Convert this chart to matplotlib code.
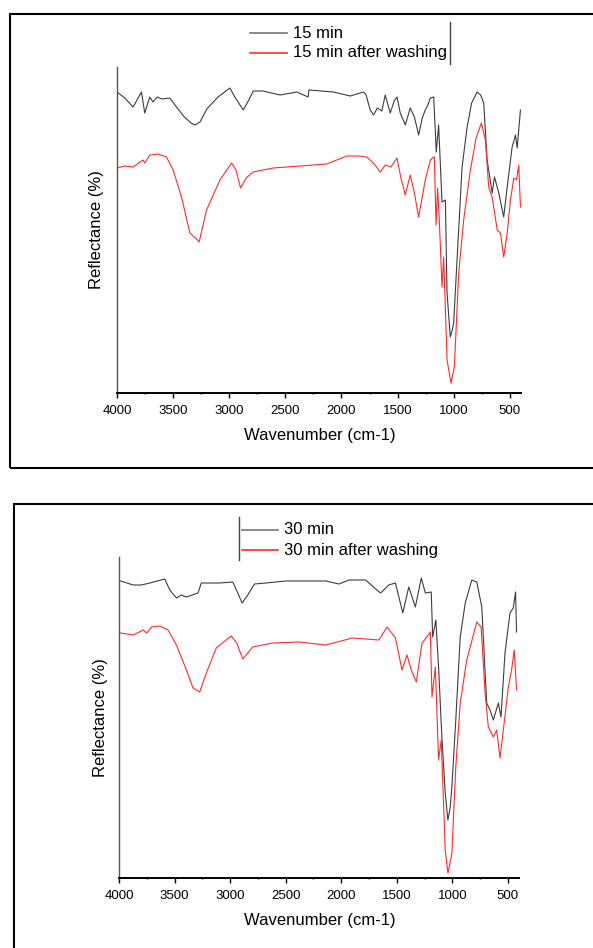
import matplotlib
matplotlib.use("Agg")
import matplotlib.pyplot as plt
from matplotlib.lines import Line2D
from matplotlib.patches import Rectangle
from matplotlib.ticker import MultipleLocator, NullLocator

plt.rcParams['font.family'] = ['Liberation Sans', 'DejaVu Sans']

# valores (unidades arbitrárias de refletância)
wn_15 = [4000, 3930, 3857, 3782, 3753, 3708, 3680, 3640, 3600, 3530, 3470, 3400, 3340, 3306, 3260,
         3200, 3100, 2994, 2950, 2875, 2830, 2786, 2700, 2547, 2398, 2297, 2290, 2071, 1922, 1803,
         1780, 1744, 1714, 1680, 1640, 1610, 1565, 1530, 1505, 1476, 1431, 1387, 1350, 1312, 1280,
         1253, 1230, 1208, 1178, 1155, 1134, 1104, 1074, 1059, 1030, 1015, 1000, 970, 925, 880,
         840, 791, 760, 732, 702, 657, 636, 598, 554, 523, 479, 449, 434, 405]
r_15 = [301, 295, 286, 301, 280, 296, 291, 296, 294, 295, 286, 276, 270, 268, 271,
        284, 296, 305, 296, 283, 292, 302, 302, 298, 301, 296, 303, 301, 297, 301,
        298, 283, 278, 285, 282, 298, 280, 292, 296, 280, 268, 285, 276, 258, 275,
        283, 288, 295, 296, 241, 268, 191, 193, 100, 56, 62, 70, 133, 226, 266,
        290, 301, 298, 290, 233, 200, 216, 200, 176, 206, 246, 258, 245, 283]

wn_15w = [4000, 3930, 3857, 3768, 3753, 3708, 3634, 3559, 3500, 3425, 3351, 3300, 3268, 3202, 3083,
          2979, 2940, 2899, 2850, 2786, 2607, 2369, 2131, 1952, 1850, 1773, 1700, 1654, 1610, 1560,
          1505, 1470, 1431, 1387, 1350, 1312, 1253, 1208, 1178, 1172, 1157, 1143, 1128, 1104, 1089,
          1059, 1024, 994, 955, 911, 851, 800, 753, 717, 688, 657, 612, 583, 554, 523,
          494, 464, 440, 420, 405]
r_15w = [225, 227, 226, 233, 230, 238, 239, 236, 223, 196, 160, 155, 151, 183, 213,
         230, 223, 205, 215, 221, 225, 227, 229, 237, 237, 236, 228, 221, 228, 226,
         235, 215, 198, 218, 200, 176, 213, 233, 236, 236, 168, 205, 173, 106, 136,
         33, 10, 26, 120, 173, 223, 255, 270, 253, 206, 196, 163, 160, 136, 160,
         193, 215, 213, 228, 186]

wn_30 = [4000, 3985, 3872, 3800, 3722, 3588, 3543, 3483, 3440, 3393, 3289, 3259, 3095, 2976, 2931,
         2892, 2841, 2781, 2677, 2497, 2139, 2020, 1930, 1780, 1700, 1646, 1572, 1512, 1446, 1392,
         1333, 1279, 1243, 1190, 1177, 1148, 1124, 1094, 1064, 1040, 1020, 1004, 969, 929, 884,
         825, 780, 735, 691, 661, 631, 586, 562, 526, 481, 452, 431, 422]
r_30 = [297, 297, 293, 293, 295, 299, 288, 280, 283, 281, 285, 295, 295, 296, 285,
        275, 283, 294, 295, 297, 297, 294, 298, 298, 290, 285, 293, 295, 265, 291,
        271, 300, 285, 286, 241, 258, 211, 141, 85, 58, 70, 91, 158, 241, 275,
        298, 296, 271, 175, 168, 158, 175, 161, 225, 265, 270, 286, 246]

wn_30w = [4000, 3985, 3870, 3782, 3750, 3707, 3633, 3558, 3483, 3393, 3334, 3274, 3214, 3125, 2990,
          2940, 2886, 2796, 2617, 2378, 2139, 1900, 1661, 1587, 1512, 1453, 1408, 1370, 1324, 1273,
          1228, 1198, 1183, 1153, 1124, 1100, 1064, 1040, 1020, 1004, 969, 929, 870, 780, 741,
          705, 676, 631, 601, 571, 541, 496, 467, 443, 422]
r_30w = [245, 245, 243, 248, 245, 251, 252, 248, 233, 208, 190, 186, 205, 230, 242,
         235, 219, 231, 235, 236, 233, 240, 238, 251, 240, 208, 223, 208, 196, 235,
         241, 246, 181, 211, 118, 138, 28, 5, 15, 25, 111, 175, 218, 256, 251,
         185, 151, 141, 148, 120, 148, 191, 208, 228, 188]

W, H = 593, 948
fig = plt.figure(figsize=(W / 100, H / 100), dpi=100)

cor_preto = '#3c3c3c'
cor_verm = '#ff2b2b'


def px(x0, y0, x1, y1):
    # converte caixa em pixels (topo-esquerda) para coordenadas da figura
    return [x0 / W, 1 - y1 / H, (x1 - x0) / W, (y1 - y0) / H]


def painel(rect, wn_a, r_a, wn_b, r_b, ymax):
    ax = fig.add_axes(rect)
    ax.plot(wn_a, r_a, color=cor_preto, lw=0.8)
    ax.plot(wn_b, r_b, color=cor_verm, lw=0.8)
    ax.set_xlim(4000, 400)
    ax.set_ylim(0, ymax)
    ax.spines['top'].set_visible(False)
    ax.spines['right'].set_visible(False)
    ax.spines['left'].set_color('#555555')
    ax.spines['left'].set_linewidth(1.0)
    ax.spines['bottom'].set_linewidth(1.4)
    ax.xaxis.set_major_locator(MultipleLocator(500))
    ax.xaxis.set_minor_locator(MultipleLocator(250))
    ax.yaxis.set_major_locator(NullLocator())
    ax.tick_params(axis='x', which='major', length=3.5, width=1, pad=5, labelsize=9.5)
    ax.tick_params(axis='x', which='minor', length=2, width=1, direction='inout')
    return ax


# painel de cima (15 min)
painel(px(117, 67, 521, 393), wn_15, r_15, wn_15w, r_15w, 326)
fig.add_artist(Rectangle((9.5 / W, 1 - 468 / H), (620 - 9.5) / W, (468 - 14) / H,
                         transform=fig.transFigure, fill=False, ec='black', lw=1.5))
fig.text(320 / W, 1 - 436 / H, 'Wavenumber (cm-1)', ha='center', va='center', fontsize=12)
fig.text(96 / W, 1 - 230 / H, 'Reflectance (%)', ha='center', va='center', rotation=90, fontsize=12)
fig.add_artist(Line2D([250 / W, 287 / W], [1 - 33 / H, 1 - 33 / H], color='#777777', lw=1.2))
fig.add_artist(Line2D([250 / W, 287 / W], [1 - 53 / H, 1 - 53 / H], color=cor_verm, lw=1.2))
fig.add_artist(Line2D([449.5 / W, 449.5 / W], [1 - 22 / H, 1 - 64 / H], color='#444444', lw=1.0))
fig.text(293 / W, 1 - 33 / H, '15 min', va='center', fontsize=12)
fig.text(293 / W, 1 - 53 / H, '15 min after washing', va='center', fontsize=12)

# painel de baixo (30 min)
painel(px(119, 557, 519, 878), wn_30, r_30, wn_30w, r_30w, 321)
fig.add_artist(Rectangle((14 / W, 1 - 960 / H), (620 - 14) / W, (960 - 504) / H,
                         transform=fig.transFigure, fill=False, ec='black', lw=1.5))
fig.text(320 / W, 1 - 921 / H, 'Wavenumber (cm-1)', ha='center', va='center', fontsize=12)
fig.text(100 / W, 1 - 718 / H, 'Reflectance (%)', ha='center', va='center', rotation=90, fontsize=12)
fig.add_artist(Line2D([242 / W, 278 / W], [1 - 530 / H, 1 - 530 / H], color='#777777', lw=1.2))
fig.add_artist(Line2D([242 / W, 278 / W], [1 - 550 / H, 1 - 550 / H], color=cor_verm, lw=1.2))
fig.add_artist(Line2D([239 / W, 239 / W], [1 - 517 / H, 1 - 560 / H], color='#444444', lw=1.0))
fig.text(284 / W, 1 - 530 / H, '30 min', va='center', fontsize=12)
fig.text(284 / W, 1 - 550 / H, '30 min after washing', va='center', fontsize=12)

fig.savefig('out.png', dpi=100)
